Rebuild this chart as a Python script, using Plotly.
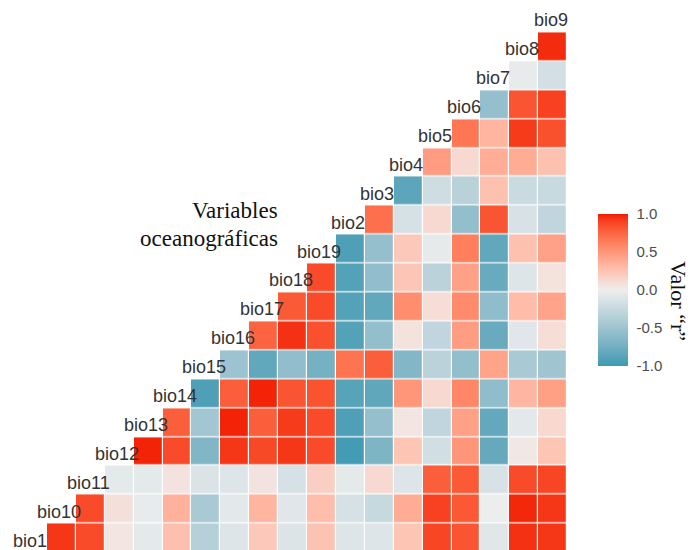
import numpy as np
import plotly.graph_objects as go

# Variable order along the diagonal (bottom-left to top-right)
variables = ["bio1", "bio10", "bio11", "bio12", "bio13", "bio14", "bio15",
             "bio16", "bio17", "bio18", "bio19", "bio2", "bio3", "bio4",
             "bio5", "bio6", "bio7", "bio8", "bio9"]

# Pearson r of each variable with every variable that follows it in `variables`
r_bio1 = [0.93, 0.86, 0.05, -0.06, 0.27, -0.35, -0.10, 0.22, -0.11, 0.25,
          -0.10, -0.10, 0.24, 0.88, 0.82, -0.08, 0.95, 0.93]
r_bio10 = [0.86, 0.08, -0.04, 0.35, -0.43, -0.07, 0.33, -0.09, 0.28,
           -0.15, -0.25, 0.38, 0.90, 0.81, -0.01, 0.97, 0.93]
r_bio11 = [-0.06, -0.06, 0.06, -0.12, -0.10, 0.06, -0.15, 0.18, -0.06,
           0.12, -0.10, 0.78, 0.80, -0.14, 0.86, 0.88]
r_bio12 = [0.98, 0.86, -0.66, 0.93, 0.87, 0.93, 0.86, -0.97, -0.68, 0.24,
           -0.18, 0.50, -0.81, 0.04, 0.24]
r_bio13 = [0.78, -0.46, 0.98, 0.78, 0.92, 0.86, -0.92, -0.55, 0.05, -0.29,
           0.44, -0.82, -0.07, 0.13]
r_bio14 = [-0.92, 0.78, 0.98, 0.82, 0.83, -0.88, -0.84, 0.50, 0.12, 0.58,
           -0.58, 0.32, 0.45]
r_bio15 = [-0.50, -0.83, -0.57, -0.72, 0.68, 0.78, -0.65, -0.32, -0.56,
           0.43, -0.43, -0.48]
r_bio16 = [0.76, 0.95, 0.84, -0.90, -0.56, 0.07, -0.29, 0.46, -0.80,
           -0.09, 0.10]
r_bio17 = [0.80, 0.86, -0.90, -0.83, 0.55, 0.10, 0.56, -0.58, 0.29, 0.42]
r_bio18 = [0.86, -0.90, -0.57, 0.23, -0.32, 0.44, -0.80, -0.10, 0.07]
r_bio19 = [-0.92, -0.55, 0.22, -0.05, 0.63, -0.83, 0.26, 0.44]
r_bio2 = [0.70, -0.15, 0.12, -0.56, 0.82, -0.14, -0.29]
r_bio3 = [-0.86, -0.20, -0.33, 0.26, -0.23, -0.24]
r_bio4 = [0.47, 0.12, 0.37, 0.38, 0.26]
r_bio5 = [0.67, 0.33, 0.92, 0.84]
r_bio6 = [-0.55, 0.82, 0.90]
r_bio7 = [-0.04, -0.17]
r_bio8 = [0.96]

rows = [r_bio1, r_bio10, r_bio11, r_bio12, r_bio13, r_bio14, r_bio15,
        r_bio16, r_bio17, r_bio18, r_bio19, r_bio2, r_bio3, r_bio4,
        r_bio5, r_bio6, r_bio7, r_bio8]

colorbar_ticks = [-1.0, -0.5, 0.0, 0.5, 1.0]
colorbar_labels = ["-1.0", "-0.5", "0.0", "0.5", "1.0"]

n = len(variables)
pos = np.arange(1, n + 1)

# z[row][col]: row = variable on y, col = variable on x (upper triangle only)
z = np.full((n, n), np.nan)
for i, vals in enumerate(rows):
    for k, v in enumerate(vals):
        z[i, i + 1 + k] = v


# ---- diverging palette interpolated in CIE Lab (low / mid / high) ----
def _hex_to_rgb(h):
    h = h.lstrip("#")
    return [int(h[i:i + 2], 16) / 255 for i in (0, 2, 4)]


def _to_lin(c):
    return c / 12.92 if c <= 0.04045 else ((c + 0.055) / 1.055) ** 2.4


def _to_srgb(c):
    c = max(0.0, min(1.0, c))
    return 12.92 * c if c <= 0.0031308 else 1.055 * c ** (1 / 2.4) - 0.055


WHITE = (0.95047, 1.0, 1.08883)


def hex_to_lab(h):
    r, g, b = [_to_lin(c) for c in _hex_to_rgb(h)]
    x = 0.4124 * r + 0.3576 * g + 0.1805 * b
    y = 0.2126 * r + 0.7152 * g + 0.0722 * b
    zz = 0.0193 * r + 0.1192 * g + 0.9505 * b

    def f(t):
        return t ** (1 / 3) if t > 0.008856 else 7.787 * t + 16 / 116

    fx, fy, fz = f(x / WHITE[0]), f(y / WHITE[1]), f(zz / WHITE[2])
    return (116 * fy - 16, 500 * (fx - fy), 200 * (fy - fz))


def lab_to_hex(L, a, b):
    fy = (L + 16) / 116
    fx = fy + a / 500
    fz = fy - b / 200

    def finv(t):
        return t ** 3 if t ** 3 > 0.008856 else (t - 16 / 116) / 7.787

    x, y, zz = finv(fx) * WHITE[0], finv(fy) * WHITE[1], finv(fz) * WHITE[2]
    r = 3.2406 * x - 1.5372 * y - 0.4986 * zz
    g = -0.9689 * x + 1.8758 * y + 0.0415 * zz
    bb = 0.0557 * x - 0.2040 * y + 1.0570 * zz
    return "#%02x%02x%02x" % tuple(round(_to_srgb(c) * 255) for c in (r, g, bb))


low, mid, high = hex_to_lab("#3B9AB2"), hex_to_lab("#EEEEEE"), hex_to_lab("#F21A00")
colorscale = []
for t in np.linspace(0, 1, 41):
    v = 2 * t - 1
    a, b, f = (mid, low, -v) if v < 0 else (mid, high, v)
    lab = [a[j] + (b[j] - a[j]) * f for j in range(3)]
    colorscale.append([float(t), lab_to_hex(*lab)])

W, H = 691, 550
CELL = 28.9          # pixels per correlation tile
BAR_LEFT, BAR_W = 598, 30
BAR_MID, BAR_LEN = 290, 152
bar_y = 1 - BAR_MID / H
clear = [[0, "rgba(0,0,0,0)"], [1, "rgba(0,0,0,0)"]]
inner_ticks = [v for v in colorbar_ticks if abs(v) < 1]

fig = go.Figure()
fig.add_trace(go.Heatmap(
    x=pos, y=pos, z=z,
    zmin=-1, zmax=1, colorscale=colorscale,
    xgap=1.2, ygap=1.2, hoverinfo="skip",
    colorbar=dict(
        x=BAR_LEFT / W, xanchor="left", xpad=0, ypad=0,
        y=bar_y, yanchor="middle",
        thickness=BAR_W, thicknessmode="pixels",
        len=BAR_LEN, lenmode="pixels",
        outlinewidth=0,
        tickvals=colorbar_ticks, ticktext=colorbar_labels,
        ticks="outside", ticklen=6, tickcolor="rgba(0,0,0,0)",
        tickfont=dict(family="Arial, Liberation Sans", size=15, color="#4d4d4d"),
    ),
))

# white tick marks on both edges of the colour bar (empty overlay bars)
fig.add_trace(go.Heatmap(
    x=pos, y=pos, z=np.full((n, n), np.nan), zmin=-1, zmax=1,
    colorscale=clear, hoverinfo="skip",
    colorbar=dict(
        x=(BAR_LEFT - 1) / W, xanchor="left", xpad=0, ypad=0,
        y=bar_y, yanchor="middle", thickness=1, len=BAR_LEN, lenmode="pixels",
        outlinewidth=0, tickvals=inner_ticks, showticklabels=False,
        ticks="outside", ticklen=6, tickcolor="white", tickwidth=1.2,
    ),
))
fig.add_trace(go.Heatmap(
    x=pos, y=pos, z=np.full((n, n), np.nan), zmin=-1, zmax=1,
    colorscale=clear, hoverinfo="skip",
    colorbar=dict(
        x=(BAR_LEFT + BAR_W - 1) / W, xanchor="left", xpad=0, ypad=0,
        y=bar_y, yanchor="middle", thickness=1, len=BAR_LEN, lenmode="pixels",
        outlinewidth=0, tickvals=inner_ticks, showticklabels=False,
        ticks="inside", ticklen=6, tickcolor="white", tickwidth=1.2,
    ),
))

# diagonal variable names
annotations = []
for k, name in zip(pos, variables):
    annotations.append(dict(
        x=int(k), y=int(k), xref="x", yref="y", text=name, showarrow=False,
        xshift=-2, yshift=-2.5,
        font=dict(family="Arial, Liberation Sans", size=18, color="#333333"),
    ))

serif = dict(family="Times New Roman, Liberation Serif", size=23, color="#111111")
for line, ypx in (("Variables", 210), ("oceanográficas", 238)):
    annotations.append(dict(
        x=280 / W, y=1 - ypx / H, xref="paper", yref="paper",
        xanchor="right", yanchor="middle", showarrow=False,
        text=line, font=serif,
    ))
annotations.append(dict(
    x=679 / W, y=1 - 301 / H, xref="paper", yref="paper",
    xanchor="center", yanchor="middle", showarrow=False, textangle=90,
    text="Valor “r”",
    font=dict(family="Times New Roman, Liberation Serif", size=22, color="#111111"),
))

x0 = 1.5 - 46.9 / CELL
y_top = 18.5 + 32.3 / CELL
fig.update_layout(
    width=W, height=H,
    margin=dict(l=0, r=0, t=0, b=0),
    paper_bgcolor="white", plot_bgcolor="white",
    xaxis=dict(visible=False, range=[x0, x0 + W / CELL], fixedrange=True),
    yaxis=dict(visible=False, range=[y_top - H / CELL, y_top], fixedrange=True),
    annotations=annotations,
    showlegend=False,
)

fig.write_html("out.html")
